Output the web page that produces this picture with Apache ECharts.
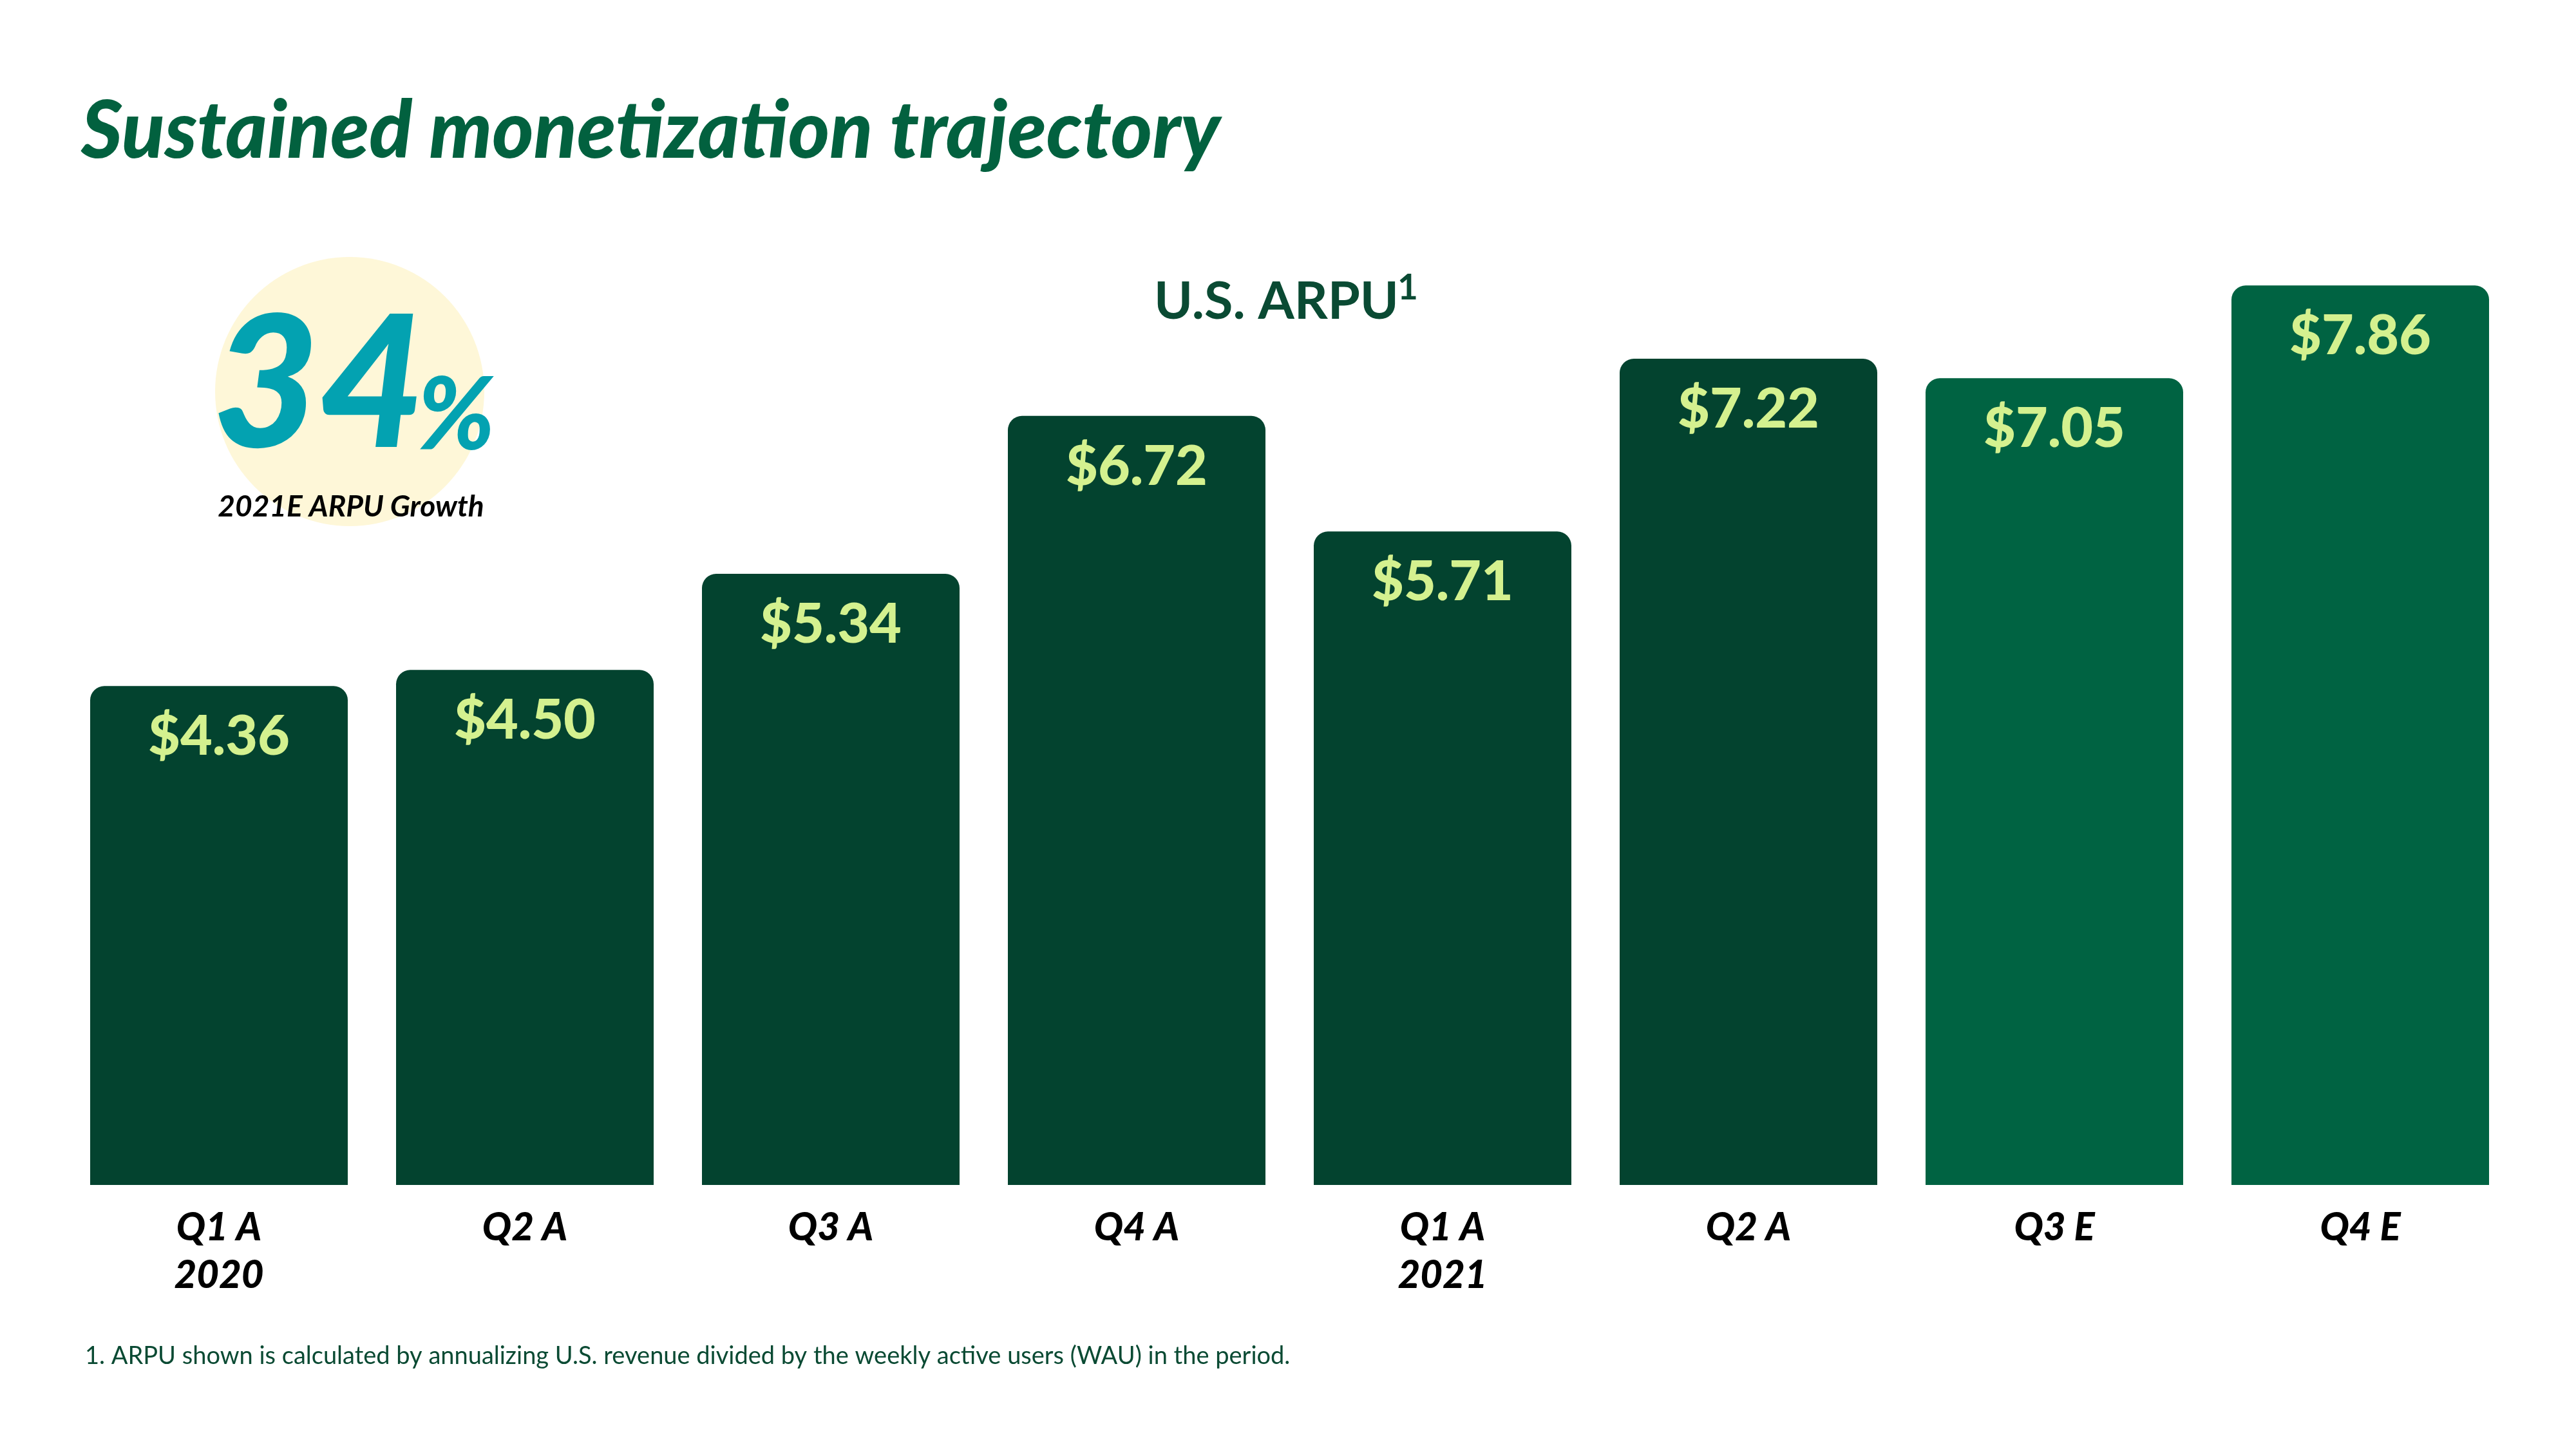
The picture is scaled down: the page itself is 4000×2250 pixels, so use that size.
<!DOCTYPE html>
<html>
<head>
<meta charset="utf-8">
<script src="https://cdn.jsdelivr.net/npm/echarts@6/dist/echarts.min.js"></script>
<style>
html,body{margin:0;padding:0;background:#fff;}
#chart{width:4000px;height:2250px;}
</style>
</head>
<body>
<div id="chart"></div>
<script>
const categories = ['Q1 A\n2020', 'Q2 A', 'Q3 A', 'Q4 A', 'Q1 A\n2021', 'Q2 A', 'Q3 E', 'Q4 E'];
const arpuValues = [4.36, 4.50, 5.34, 6.72, 5.71, 7.22, 7.05, 7.86];
const isEstimate = [false, false, false, false, false, false, true, true];

const DARK = '#03432F';
const LIGHT = '#006342';
const LABEL = '#D4F18F';
const TEXT_GREEN = '#0A4A33';

const chart = echarts.init(document.getElementById('chart'), null, {renderer: 'canvas'});

const option = {
  backgroundColor: '#ffffff',
  animation: false,
  grid: {left: 102.5, right: 97.5, top: 63, bottom: 410, containLabel: false},
  xAxis: {
    type: 'category',
    data: categories,
    axisLine: {show: false},
    axisTick: {show: false},
    axisLabel: {
      margin: 30,
      fontFamily: 'Lato',
      fontSize: 60,
      fontWeight: 900,
      fontStyle: 'italic',
      color: '#000000',
      lineHeight: 74
    }
  },
  yAxis: {
    type: 'value',
    min: 0,
    max: 10,
    show: false,
    splitLine: {show: false}
  },
  series: [{
    type: 'bar',
    barWidth: 400,
    data: arpuValues.map((v, i) => ({
      value: v,
      itemStyle: {color: isEstimate[i] ? LIGHT : DARK}
    })),
    itemStyle: {borderRadius: [22, 22, 0, 0]},
    label: {
      show: true,
      position: 'insideTop',
      distance: 36,
      fontFamily: 'Lato',
      fontSize: 86,
      fontWeight: 900,
      color: LABEL,
      formatter: p => '$' + p.value.toFixed(2)
    }
  }],
  graphic: [
    {
      type: 'text', z: 10,
      position: [126, 205],
      style: {
        text: 'Sustained monetization trajectory',
        font: 'italic 900 123px Lato',
        fill: '#02613F',
        verticalAlign: 'middle',
        align: 'left'
      }
    },
    {
      type: 'circle', z: 1,
      shape: {cx: 543, cy: 608, r: 209},
      style: {fill: '#FEF7D8'}
    },
    {
      type: 'text', z: 10,
      position: [330, 602],
      style: {
        text: '34',
        font: 'italic 900 285px Lato',
        fill: '#03A2B1',
        verticalAlign: 'middle',
        align: 'left'
      }
    },
    {
      type: 'text', z: 10,
      position: [648, 647],
      style: {
        text: '%',
        font: 'italic 900 157px Lato',
        fill: '#03A2B1',
        verticalAlign: 'middle',
        align: 'left'
      }
    },
    {
      type: 'text', z: 10,
      position: [545, 787],
      style: {
        text: '2021E ARPU Growth',
        font: 'italic bold 46px Lato',
        fill: '#000000',
        verticalAlign: 'middle',
        align: 'center'
      }
    },
    {
      type: 'text', z: 10,
      position: [2172, 469],
      style: {
        text: 'U.S. ARPU',
        font: 'bold 81px Lato',
        fill: TEXT_GREEN,
        verticalAlign: 'middle',
        align: 'right'
      }
    },
    {
      type: 'text', z: 10,
      position: [2170, 447],
      style: {
        text: '1',
        font: 'bold 55px Lato',
        fill: TEXT_GREEN,
        verticalAlign: 'middle',
        align: 'left'
      }
    },
    {
      type: 'text', z: 10,
      position: [132, 2106],
      style: {
        text: '1. ARPU shown is calculated by annualizing U.S. revenue divided by the weekly active users (WAU) in the period.',
        font: '38px Lato',
        fill: TEXT_GREEN,
        verticalAlign: 'middle',
        align: 'left'
      }
    }
  ]
};
chart.setOption(option);
</script>
</body>
</html>
